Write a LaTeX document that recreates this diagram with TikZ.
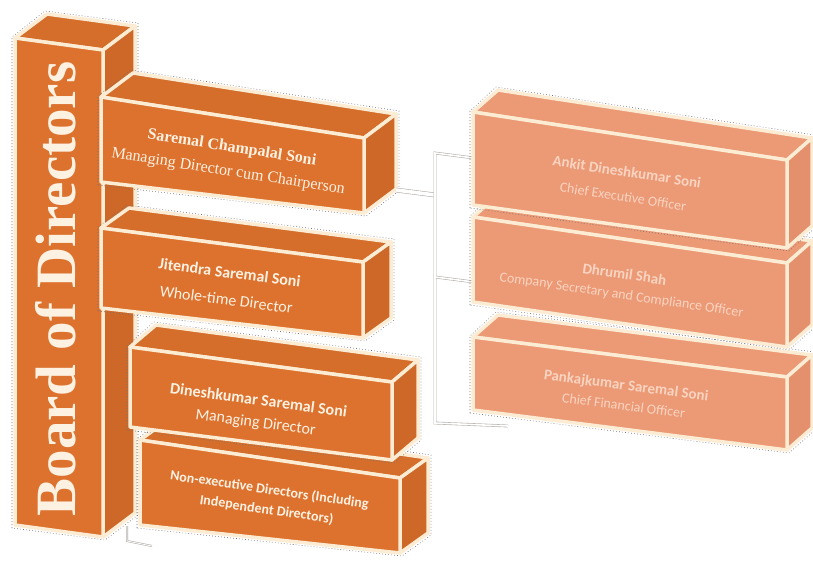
\documentclass[tikz,border=0pt]{standalone}
\usepackage{fontspec}
\setmainfont{Liberation Serif}
\newfontfamily\boxfont{Carlito}
\usepackage{tikz}

\definecolor{boxorange}{RGB}{220,114,46}
\definecolor{boxorangeside}{RGB}{206,104,40}
\definecolor{boxorangetop}{RGB}{213,109,43}
\definecolor{boxsalmon}{RGB}{236,153,118}
\definecolor{boxsalmonside}{RGB}{229,144,108}
\definecolor{boxcream}{RGB}{252,236,212}
\definecolor{textcream}{RGB}{253,241,226}
\definecolor{textpale}{RGB}{249,212,192}
\definecolor{linkgrey}{RGB}{182,177,172}

\tikzset{
    facebase/.style = {draw=boxcream, line width=3.5pt, line join=round},
    frontface/.style = {facebase, fill=boxorange},
    sideface/.style = {facebase, fill=boxorangeside},
    topface/.style = {facebase, fill=boxorangetop},
    outline/.style = {black!55, line width=0.6pt, dash pattern=on 0.8pt off 2.2pt},
    nametext/.style = {text=textcream, align=center, inner sep=0pt},
    link/.style = {draw=linkgrey, line width=0.6pt, double=white, double distance=1.6pt},
    widelink/.style = {link, double distance=3.6pt}
}

% #1 name, #2 x, #3 y, #4 width, #5 left height, #6 right height,
% #7 drop of the right end, #8 depth x, #9 depth rise
\newcommand{\drawcuboid}[9]{
    \coordinate (#1-a) at (#2,#3);
    \coordinate (#1-b) at (#2+#4,#3+#7);
    \coordinate (#1-c) at (#2+#4,#3+#7+#6);
    \coordinate (#1-d) at (#2,#3+#5);
    \coordinate (#1-ba) at (#2+#8,#3-#9);
    \coordinate (#1-bb) at (#2+#4+#8,#3+#7-#9);
    \coordinate (#1-bc) at (#2+#4+#8,#3+#7+#6-#9);
    \draw [outline] (#2-3,#3+#5+3) -- (#2-3,#3-1) -- (#2+#8-2,#3-#9-3)
        -- (#2+#4+#8+3,#3+#7-#9-3) -- (#2+#4+#8+3,#3+#7+#6-#9+2)
        -- (#2+#4+2,#3+#7+#6+3) -- cycle;
    \filldraw [topface] (#1-a) -- (#1-b) -- (#1-bb) -- (#1-ba) -- cycle;
    \filldraw [sideface] (#1-b) -- (#1-bb) -- (#1-bc) -- (#1-c) -- cycle;
    \filldraw [frontface] (#1-a) -- (#1-b) -- (#1-c) -- (#1-d) -- cycle;
}

\begin{document}
\begin{tikzpicture}[x=1pt, y=-1pt]
    \useasboundingbox (0,0) rectangle (813,562);

    % left column
    \drawcuboid{board}{15}{38}{88}{487}{487}{12}{32}{24}
    \drawcuboid{nonexec}{140}{440}{260}{85}{75}{38}{28}{20}
    \drawcuboid{dinesh}{130}{347}{262}{80}{78}{35}{26}{22}
    \drawcuboid{jitendra}{101}{228}{262}{80}{76}{34}{28}{20}
    \drawcuboid{saremal}{101}{97}{263}{85}{75}{41}{32}{24}

    % links to the officers
    \coordinate (saremal-out) at (396,190);
    \coordinate (bus-saremal) at (435,195);
    \coordinate (bus-top) at (435,153);
    \coordinate (bus-mid) at (435,277);
    \coordinate (bus-bot) at (435,423);
    \coordinate (ankit-in) at (474,158);
    \coordinate (dhrumil-in) at (474,282);
    \coordinate (pankaj-in) at (508,426);
    \coordinate (board-stub) at (127,526);
    \coordinate (stub-corner) at (127,541);
    \coordinate (stub-end) at (152,546);
    \draw [widelink] (saremal-out) -- (bus-saremal);
    \draw [link] (ankit-in) -- (bus-top) -- (bus-bot) -- (pankaj-in)
        (bus-mid) -- (dhrumil-in);
    \draw [link, double distance=0.8pt] (board-stub) -- (stub-corner) -- (stub-end);

    % right column
    \begin{scope}[frontface/.style={facebase, fill=boxsalmon},
                  sideface/.style={facebase, fill=boxsalmonside},
                  topface/.style={facebase, fill=boxsalmon}]
        \drawcuboid{pankaj}{473}{337}{314}{73}{73}{40}{25}{22}
        \drawcuboid{dhrumil}{473}{217}{314}{85}{84}{46}{25}{22}
        \drawcuboid{ankit}{473}{112}{314}{93}{88}{48}{25}{22}
    \end{scope}

    % texts
    \node [nametext, rotate=90, font=\fontsize{57}{60}\selectfont\bfseries]
        (board-text) at (56,289) {Board of Directors};
    \node [nametext, rotate=-8.9, font=\fontsize{16}{19}\selectfont]
        (saremal-text) at (230,160) {\textbf{Saremal Champalal Soni}\\[5pt] Managing Director cum Chairperson};
    \node [nametext, rotate=-7.4, font=\boxfont\fontsize{16}{19}\selectfont]
        (jitendra-text) at (228,286) {\textbf{Jitendra Saremal Soni}\\[8pt] Whole-time Director};
    \node [nametext, rotate=-7.6, font=\boxfont\fontsize{16}{19}\selectfont]
        (dinesh-text) at (257,412) {\textbf{Dineshkumar Saremal Soni}\\[3pt] Managing Director};
    \node [nametext, rotate=-8.3, font=\boxfont\bfseries\fontsize{14}{17}\selectfont]
        (nonexec-text) at (268,500) {Non-executive Directors (Including\\[3pt] Independent Directors)};
    \node [nametext, text=textpale, rotate=-8.7, font=\boxfont\fontsize{14}{17}\selectfont]
        (ankit-text) at (625,184) {\textbf{\fontsize{15}{17}\selectfont Ankit Dineshkumar Soni}\\[8pt] Chief Executive Officer};
    \node [nametext, text=textpale, rotate=-8.4, font=\boxfont\fontsize{14}{17}\selectfont]
        (dhrumil-text) at (623,285) {\textbf{\fontsize{15}{17}\selectfont Dhrumil Shah}\\[3pt] Company Secretary and Compliance Officer};
    \node [nametext, text=textpale, rotate=-7.3, font=\boxfont\fontsize{14}{17}\selectfont]
        (pankaj-text) at (625,395) {\textbf{\fontsize{15}{17}\selectfont Pankajkumar Saremal Soni}\\[3pt] Chief Financial Officer};
\end{tikzpicture}
\end{document}
